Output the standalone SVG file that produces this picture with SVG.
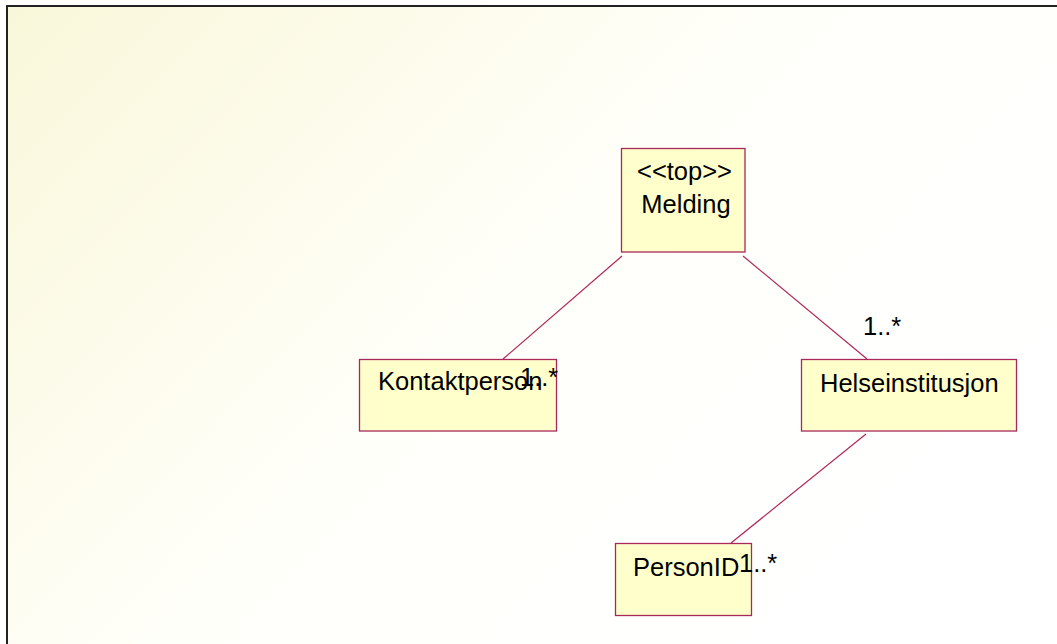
<svg xmlns="http://www.w3.org/2000/svg" width="1057" height="644" viewBox="0 0 1057 644">
<defs>
<linearGradient id="bg" x1="0" y1="0" x2="1" y2="0.6">
<stop offset="0" stop-color="#F9F7D9"/>
<stop offset="0.55" stop-color="#FFFFFA"/>
<stop offset="1" stop-color="#FFFFFF"/>
</linearGradient>
<style>
.node{fill:#FFFFCC;stroke:#A8285A;stroke-width:1.3}
.conn{stroke:#B0285A;stroke-width:1.2;fill:none}
text{font-family:"Liberation Sans",Arial,sans-serif;font-size:25.5px;fill:#000}
</style>
</defs>
<rect x="0" y="0" width="1057" height="644" fill="#FFFFFF"/>
<rect x="7" y="6" width="1056" height="650" fill="url(#bg)" stroke="#222" stroke-width="2"/>
<g id="connectors">
<line class="conn" x1="622" y1="256" x2="503" y2="359"/>
<line class="conn" x1="743" y1="256" x2="867" y2="359"/>
<line class="conn" x1="866" y1="434" x2="731" y2="543"/>
</g>
<g id="Melding">
<rect class="node" x="621.5" y="148.5" width="123.5" height="103.5"/>
<text x="684.5" y="180" text-anchor="middle">&lt;&lt;top&gt;&gt;</text>
<text x="686" y="213" text-anchor="middle">Melding</text>
</g>
<g id="Kontaktperson">
<rect class="node" x="359.5" y="359.5" width="197" height="71.5"/>
<text x="378" y="389.5">Kontaktperson</text>
</g>
<g id="Helseinstitusjon">
<rect class="node" x="801.5" y="359.5" width="215" height="71.5"/>
<text x="820" y="391.5">Helseinstitusjon</text>
</g>
<g id="PersonID">
<rect class="node" x="615.5" y="543.5" width="136" height="72"/>
<text x="633" y="576">PersonID</text>
</g>
<g id="labels">
<text x="520" y="385.5">1..*</text>
<text x="863" y="335">1..*</text>
<text x="739" y="572">1..*</text>
</g>
</svg>
